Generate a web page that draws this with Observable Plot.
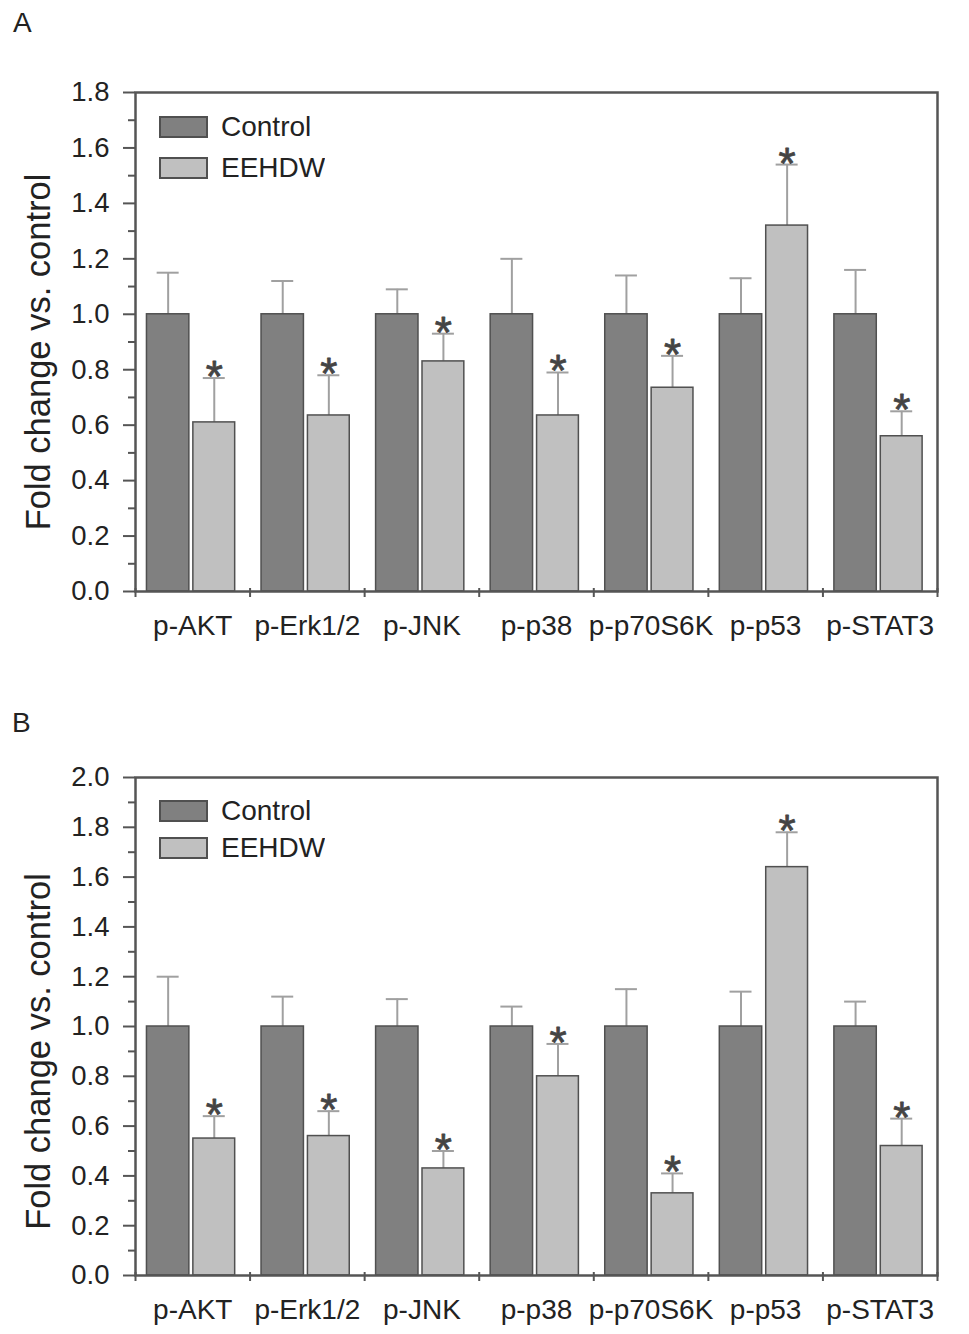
<!DOCTYPE html>
<html>
<head>
<meta charset="utf-8">
<script src="https://cdn.jsdelivr.net/npm/d3@7"></script>
<script src="https://cdn.jsdelivr.net/npm/@observablehq/plot@0.6"></script>
<style>
  body { margin: 0; background: #fff; }
  #page { position: relative; width: 969px; height: 1334px; font-family: "Liberation Sans", Arial, sans-serif; color: #222; }
  .panel { position: absolute; left: 0; }
  .letter { position: absolute; font-size: 28px; line-height: 1; }
  .legendbox { position: absolute; left: 160px; }
  .legendbox rect { stroke: #505050; stroke-width: 2px; }
</style>
</head>
<body>
<div id="page"></div>
<script>
// Western blot quantification, two panels (A and B)
const categories = ['p-AKT', 'p-Erk1/2', 'p-JNK', 'p-p38', 'p-p70S6K', 'p-p53', 'p-STAT3'];
const groups = ['Control', 'EEHDW'];
const fills = ['#808080', '#c0c0c0'];

// panel A
const controlA = [1, 1, 1, 1, 1, 1, 1];
const controlErrA = [0.15, 0.12, 0.09, 0.20, 0.14, 0.13, 0.16];
const eehdwA = [0.61, 0.635, 0.83, 0.635, 0.735, 1.32, 0.56];
const eehdwErrA = [0.16, 0.145, 0.10, 0.155, 0.115, 0.22, 0.09];
const sigA = [true, true, true, true, true, true, true];

// panel B
const controlB = [1, 1, 1, 1, 1, 1, 1];
const controlErrB = [0.20, 0.12, 0.11, 0.08, 0.15, 0.14, 0.10];
const eehdwB = [0.55, 0.56, 0.43, 0.80, 0.33, 1.64, 0.52];
const eehdwErrB = [0.09, 0.10, 0.07, 0.13, 0.08, 0.14, 0.11];
const sigB = [true, true, true, true, true, true, true];

const font = '"Liberation Sans", Arial, sans-serif';
// where each group's bar sits inside its category slot
const slot = { Control: [0.10, 0.47], EEHDW: [0.505, 0.87] };
const capHalf = 0.096;

function rowsFor(control, controlErr, eehdw, eehdwErr, sig) {
  const rows = [];
  categories.forEach((c, i) => {
    [[groups[0], control[i], controlErr[i], false], [groups[1], eehdw[i], eehdwErr[i], sig[i]]].forEach(([g, v, e, s]) => {
      const [a, b] = slot[g];
      rows.push({ cat: c, group: g, value: v, top: v + e, x1: i + a, x2: i + b, xc: i + (a + b) / 2, sig: s });
    });
  });
  return rows;
}

function panel(opts) {
  const rows = rowsFor(opts.control, opts.controlErr, opts.eehdw, opts.eehdwErr, opts.sig);
  const majors = d3.range(0, opts.yMax + 0.001, 0.2);
  const minors = d3.range(1, Math.round(opts.yMax * 10), 2).map(v => v / 10);
  return Plot.plot({
    width: 969,
    height: opts.height,
    marginLeft: 135,
    marginRight: 32,
    marginTop: 92,
    marginBottom: opts.height - 92 - opts.plotHeight,
    style: { fontFamily: font, color: '#555', background: 'transparent' },
    x: { type: 'linear', domain: [0, categories.length] },
    y: { domain: [0, opts.yMax] },
    color: { domain: groups, range: fills },
    marks: [
      Plot.ruleX(rows, { x: 'xc', y1: 'value', y2: 'top', stroke: '#a0a0a0', strokeWidth: 2 }),
      Plot.ruleY(rows, { y: 'top', x1: d => d.xc - capHalf, x2: d => d.xc + capHalf, stroke: '#a0a0a0', strokeWidth: 2 }),
      Plot.rect(rows, { x1: 'x1', x2: 'x2', y1: 0, y2: 'value', fill: 'group', stroke: '#505050', strokeWidth: 1.5 }),
      Plot.text(rows.filter(d => d.sig), {
        x: 'xc', y: 'top', text: () => '*', lineAnchor: 'bottom', dy: 14,
        fontSize: 44, fill: '#444', stroke: '#444', strokeWidth: 0.8
      }),
      Plot.frame({ stroke: '#555', strokeWidth: 2.5 }),
      Plot.axisY({ ticks: minors, tickSize: 7, tickFormat: () => '', label: null, strokeWidth: 2 }),
      Plot.axisY({
        ticks: majors, tickSize: 12, tickPadding: 14, tickFormat: d3.format('.1f'),
        label: null, strokeWidth: 2, fontSize: 27.5, fill: '#222'
      }),
      Plot.axisX({ ticks: d3.range(0, categories.length + 1), tickSize: 9, dy: -3, tickFormat: () => '', label: null, strokeWidth: 2 }),
      Plot.axisX({
        ticks: d3.range(0.5, categories.length), tickSize: 0, tickPadding: 24,
        tickFormat: v => categories[Math.floor(v)], label: null, fontSize: 28, fill: '#222'
      }),
      Plot.text(['Fold change vs. control'], {
        text: d => d, frameAnchor: 'left', textAnchor: 'middle', rotate: -90,
        dx: -97, dy: opts.labelShift, fontSize: 34.5, fill: '#222'
      })
    ]
  });
}

function legend(top, pitch) {
  const box = document.createElement('div');
  box.className = 'legendbox';
  box.style.top = top + 'px';
  const lg = Plot.legend({
    color: { domain: groups, range: fills },
    legend: 'swatches',
    columns: 1,
    swatchWidth: 47,
    swatchHeight: 20,
    className: 'lg',
    style: { fontSize: '28px', fontFamily: font, color: '#222', margin: 0 }
  });
  lg.querySelectorAll('.lg-swatch').forEach(el => {
    el.style.height = pitch + 'px';
    el.style.paddingBottom = '0';
  });
  box.append(lg);
  return box;
}

function place(top, node) {
  const wrap = document.createElement('div');
  wrap.className = 'panel';
  wrap.style.top = top + 'px';
  wrap.append(node);
  return wrap;
}

const page = document.getElementById('page');

const letterA = document.createElement('div');
letterA.className = 'letter';
letterA.style.left = '13px';
letterA.style.top = '9px';
letterA.textContent = 'A';
page.append(letterA);

page.append(place(0, panel({
  control: controlA, controlErr: controlErrA, eehdw: eehdwA, eehdwErr: eehdwErrA, sig: sigA,
  yMax: 1.8, height: 685, plotHeight: 499, labelShift: 10
})));
page.append(legend(106, 41));

const letterB = document.createElement('div');
letterB.className = 'letter';
letterB.style.left = '12px';
letterB.style.top = '709px';
letterB.textContent = 'B';
page.append(letterB);

page.append(place(685, panel({
  control: controlB, controlErr: controlErrB, eehdw: eehdwB, eehdwErr: eehdwErrB, sig: sigB,
  yMax: 2.0, height: 649, plotHeight: 498, labelShift: 25
})));
page.append(legend(792, 37.5));
</script>
</body>
</html>
